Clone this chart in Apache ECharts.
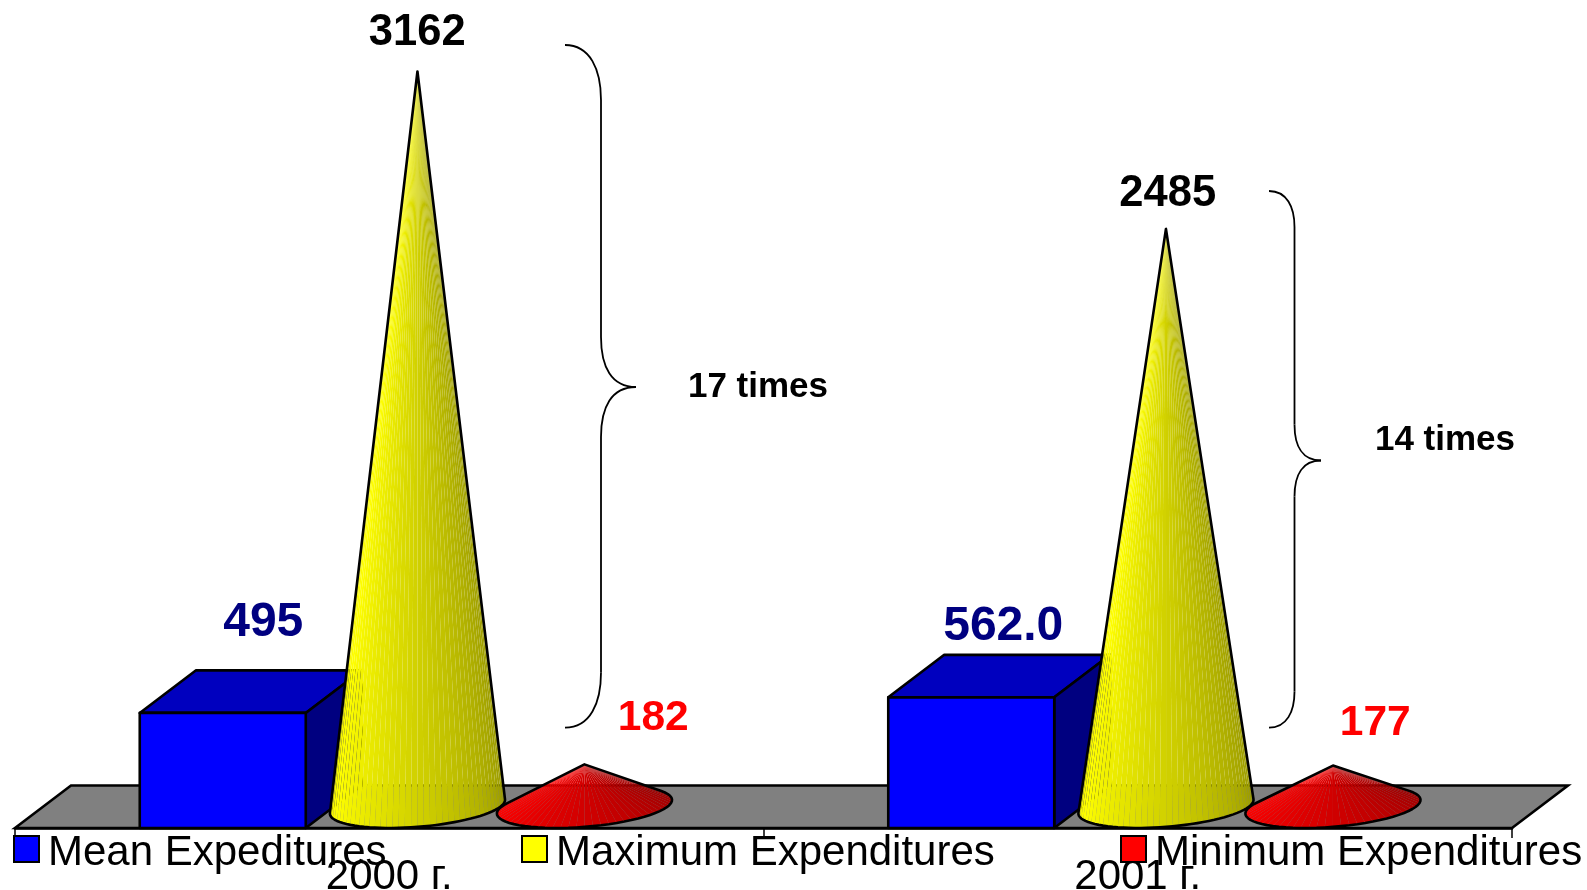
<!DOCTYPE html>
<html>
<head>
<meta charset="utf-8">
<script src="https://cdn.jsdelivr.net/npm/echarts@6/dist/echarts.min.js"></script>
<style>html,body{margin:0;padding:0;background:#fff}#c{width:1587px;height:890px}</style>
</head>
<body>
<div id="c"></div>
<script>
const categories = ['2000 г.', '2001 г.'];
const meanValues = [495, 562];
const maxValues = [3162, 2485];
const minValues = [182, 177];
const meanLabels = ['495', '562.0'];
const maxLabels = ['3162', '2485'];
const minLabels = ['182', '177'];
const ratioLabels = ['17 times', '14 times'];

const FONT = '"Liberation Sans", Arial, sans-serif';
const DEPTH_X = 56, DEPTH_Y = 42.5, RY = 21.3, SHEAR = 28, LW = 2.6;

// layout only: label nudges from the top of each mark
const meanNudge = [[-126, -90.5], [-134.5, -70.4]];
const maxNudge = [[28, -38.5], [30, -34.5]];
const minNudge = [[264, -46], [237.5, -42]];

function withIdx(values) { return values.map((v, i) => [i, v]); }

function floorItem(params) {
  const g = params.coordSys;
  const yb = g.y + g.height;
  return {
    type: 'polygon',
    shape: { points: [[g.x, yb], [g.x + DEPTH_X, yb - DEPTH_Y], [g.x + g.width + DEPTH_X, yb - DEPTH_Y], [g.x + g.width, yb]] },
    style: { fill: '#808080', stroke: '#000', lineWidth: LW }
  };
}

function cubeItem(params, api) {
  const i = api.value(0), c = api.coord([i, api.value(1)]);
  const yb = params.coordSys.y + params.coordSys.height;
  const x0 = c[0] - 249.5, x1 = c[0] - 83.5;
  const yt = c[1] + RY;
  const lw = { stroke: '#000', lineWidth: LW, lineJoin: 'round' };
  return {
    type: 'group',
    children: [
      { type: 'polygon', shape: { points: [[x0, yt], [x0 + DEPTH_X, yt - DEPTH_Y], [x1 + DEPTH_X, yt - DEPTH_Y], [x1, yt]] }, style: Object.assign({ fill: '#0000bf' }, lw) },
      { type: 'polygon', shape: { points: [[x1, yt], [x1 + DEPTH_X, yt - DEPTH_Y], [x1 + DEPTH_X, yb - DEPTH_Y], [x1, yb]] }, style: Object.assign({ fill: '#000080' }, lw) },
      { type: 'rect', shape: { x: x0, y: yt, width: x1 - x0, height: yb - yt }, style: Object.assign({ fill: '#0000ff' }, lw) },
      { type: 'text', style: { text: meanLabels[i], x: c[0] + meanNudge[i][0], y: c[1] + RY + meanNudge[i][1], align: 'center', verticalAlign: 'middle', font: 'bold 48px ' + FONT, fill: '#000080' } }
    ]
  };
}

function shade(rgb, t) {
  const f = t < 0.12 ? 0.9 + 0.1 * t / 0.12 : 1 - 0.42 * (t - 0.12) / 0.88;
  return 'rgb(' + rgb.map(v => Math.round(v * f)).join(',') + ')';
}

function coneChildren(apex, cx, cy, rx, rgb) {
  const P = th => [cx + rx * Math.cos(th) - SHEAR * Math.sin(th), cy + RY * Math.sin(th)];
  const phi = th => { const p = P(th); return Math.atan2(p[0] - apex[0], p[1] - apex[1]); };
  // silhouette points of the tilted base as seen from the apex
  let thL = Math.PI, thR = 0;
  for (let j = 0; j <= 720; j++) {
    const a = Math.PI / 2 + Math.PI * j / 720;
    if (phi(a) < phi(thL)) thL = a;
    const b = -Math.PI / 2 + Math.PI * j / 720;
    if (phi(b) > phi(thR)) thR = b;
  }
  const N = 44, pts = [];
  for (let k = 0; k <= N; k++) pts.push(P(thL + (thR - thL) * k / N));
  const kids = [];
  for (let k = 0; k < N; k++) {
    kids.push({ type: 'polygon', shape: { points: [apex, pts[k], pts[k + 1]] }, style: { fill: shade(rgb, (k + 0.5) / N) } });
  }
  kids.push({ type: 'polygon', shape: { points: [apex].concat(pts) }, style: { fill: 'none', stroke: '#000', lineWidth: LW, lineJoin: 'round' } });
  return kids;
}

function coneRenderer(offset, rx, rgb, labels, nudge, font, color) {
  return function (params, api) {
    const i = api.value(0), c = api.coord([i, api.value(1)]), z = api.coord([i, 0]);
    const cx = c[0] + offset;
    const kids = coneChildren([cx, c[1]], cx, z[1], rx, rgb);
    kids.push({ type: 'text', style: { text: labels[i], x: c[0] + nudge[i][0], y: c[1] + nudge[i][1], align: 'center', verticalAlign: 'middle', font: font, fill: color } });
    return { type: 'group', children: kids };
  };
}

function brace(x0, xm, xt, y0, y1, yt, co, ci) {
  const st = { stroke: '#000', lineWidth: 1.8, fill: 'none' };
  const bez = (a, b, c, d) => ({ type: 'bezierCurve', shape: { x1: a[0], y1: a[1], cpx1: b[0], cpy1: b[1], cpx2: c[0], cpy2: c[1], x2: d[0], y2: d[1] }, style: st });
  const line = (a, b) => ({ type: 'line', shape: { x1: a[0], y1: a[1], x2: b[0], y2: b[1] }, style: st });
  const dx = xm - x0, dt = xt - xm;
  return [
    bez([x0, y0], [x0 + dx * 0.7, y0], [xm, y0 + co * 0.45], [xm, y0 + co]),
    line([xm, y0 + co], [xm, yt - ci]),
    bez([xm, yt - ci], [xm, yt - ci * 0.4], [xm + dt * 0.3, yt], [xt, yt]),
    bez([xt, yt], [xm + dt * 0.3, yt], [xm, yt + ci * 0.4], [xm, yt + ci]),
    line([xm, yt + ci], [xm, y1 - co]),
    bez([xm, y1 - co], [xm, y1 - co * 0.45], [x0 + dx * 0.7, y1], [x0, y1])
  ];
}

const legendBase = { orient: 'horizontal', top: 832, padding: 0, icon: 'rect', itemWidth: 25, itemHeight: 26, itemGap: 0, formatter: '{t|{name}}',
  textStyle: { fontSize: 42, fontFamily: FONT, color: '#000', rich: { t: { fontSize: 42, fontFamily: FONT, color: '#000', padding: [8, 0, 0, 4] } } }, selectedMode: false };

const chart = echarts.init(document.getElementById('c'), null, { renderer: 'canvas' });
chart.setOption({
  animation: false,
  backgroundColor: '#fff',
  grid: { left: 15, right: 75, top: 0, bottom: 62, outerBoundsMode: 'none' },
  legend: [
    Object.assign({}, legendBase, { left: 13, data: ['Mean Expeditures'] }),
    Object.assign({}, legendBase, { left: 521, data: ['Maximum Expenditures'] }),
    Object.assign({}, legendBase, { left: 1120, data: ['Minimum Expenditures'] })
  ],
  xAxis: {
    type: 'category', data: categories, boundaryGap: true,
    axisLine: { onZero: false, lineStyle: { color: '#000', width: LW } },
    axisTick: { show: true, length: 10, lineStyle: { color: '#000', width: 1.5 } },
    axisLabel: { fontSize: 42, fontFamily: FONT, color: '#000', margin: 28, interval: 0 }
  },
  yAxis: { type: 'value', min: -91.6, max: 3469.6, show: false, splitLine: { show: false } },
  series: [
    { type: 'custom', name: 'floor', data: [[0, 0]], renderItem: floorItem, clip: false, silent: true, z: 1 },
    { type: 'custom', name: 'Mean Expeditures', data: withIdx(meanValues), encode: { x: 0, y: 1 }, renderItem: cubeItem, clip: false, z: 2, itemStyle: { color: '#0000ff', borderColor: '#000', borderWidth: 2 } },
    { type: 'custom', name: 'Maximum Expenditures', data: withIdx(maxValues), encode: { x: 0, y: 1 }, clip: false, z: 3, itemStyle: { color: '#ffff00', borderColor: '#000', borderWidth: 2 },
      renderItem: coneRenderer(28.2, 83, [255, 255, 0], maxLabels, maxNudge, 'bold 43.5px ' + FONT, '#000') },
    { type: 'custom', name: 'Minimum Expenditures', data: withIdx(minValues), encode: { x: 0, y: 1 }, clip: false, z: 4, itemStyle: { color: '#ff0000', borderColor: '#000', borderWidth: 2 },
      renderItem: coneRenderer(195.2, 83, [255, 0, 0], minLabels, minNudge, 'bold 42.5px ' + FONT, '#ff0000') }
  ],
  graphic: [
    { type: 'group', children: brace(565, 601, 636, 45, 727.7, 387, 55, 50) },
    { type: 'group', children: brace(1269, 1294.5, 1321, 191, 727.7, 460.5, 36, 36) },
    { type: 'text', style: { text: ratioLabels[0], x: 758, y: 387, align: 'center', verticalAlign: 'middle', font: 'bold 35px ' + FONT, fill: '#000' } },
    { type: 'text', style: { text: ratioLabels[1], x: 1445, y: 440, align: 'center', verticalAlign: 'middle', font: 'bold 35px ' + FONT, fill: '#000' } }
  ]
});
</script>
</body>
</html>
